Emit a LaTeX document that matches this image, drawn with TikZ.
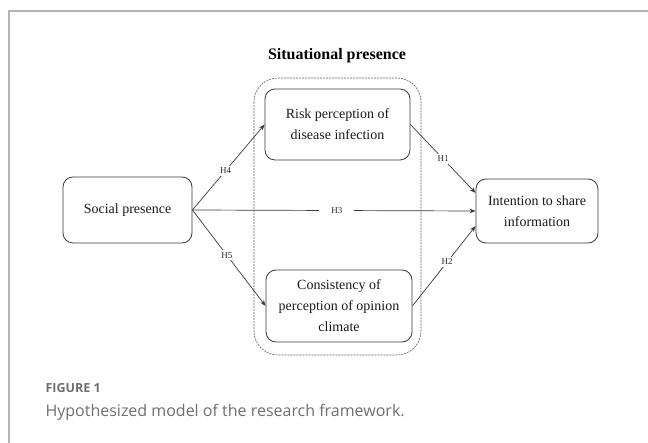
\documentclass[tikz,border=0pt]{standalone}
\usepackage{fontspec}
\setmainfont{Liberation Serif}
\newfontfamily\capfont{Open Sans}
\usetikzlibrary{arrows.meta,calc}
\definecolor{linegray}{HTML}{3A3A3A}
\definecolor{framegray}{HTML}{B4B4B4}
\definecolor{capgray}{HTML}{6E6E6E}
\tikzset{
  varbox/.style={draw=linegray, line width=0.8pt, rounded corners=10pt, align=center,
    font=\fontsize{14}{21}\selectfont, text=black!90, inner sep=0pt},
  hyp/.style={draw=linegray, line width=0.7pt, -{Stealth[length=6pt,width=4.5pt]}},
  hlabel/.style={fill=white, font=\fontsize{9}{10}\selectfont, text=black!85, inner sep=2pt},
}
\begin{document}
\begin{tikzpicture}[x=1pt,y=-1pt]
\useasboundingbox (0,0) rectangle (648,443);
% frame
\draw[framegray, line width=1.3pt] (648,11) -- (9,11) -- (9,443);
% title
\node[font=\fontsize{16}{18}\selectfont\bfseries, anchor=base] (title) at (337,60) {Situational presence};
% dashed group
\draw[linegray!80, line width=0.6pt, dash pattern=on 2pt off 1pt, rounded corners=24pt] (254,78) rectangle (421,355);
% nodes
\node[varbox, minimum width=129pt, minimum height=66pt] (social) at (127.5,210) {Social presence};
\node[varbox, minimum width=145pt, minimum height=71pt] (risk) at (337.5,124.5) {Risk perception of\\disease infection};
\node[varbox, minimum width=146pt, minimum height=72pt] (cons) at (339,306) {Consistency of\\perception of opinion\\climate};
\node[varbox, minimum width=122pt, minimum height=64pt] (intent) at (537,211) {Intention to share\\information};
% connectors
\draw[hyp] (social.east) -- node[hlabel, pos=0.46] (h4) {H4} (risk.west);
\draw[hyp] (social.east) -- node[hlabel, pos=0.47] (h5) {H5} (cons.west);
\draw[hyp] (social.east) -- node[hlabel, inner xsep=12pt, pos=0.51] (h3) {H3} (intent.west);
\draw[hyp] (risk.east) -- node[hlabel, pos=0.5] (h1) {H1} ($(intent.west)+(0,-18)$);
\draw[hyp] (cons.east) -- node[hlabel, pos=0.55] (h2) {H2} ($(intent.west)+(0,15)$);
% caption
\node[font=\capfont\fontsize{12.5}{14}\selectfont\bfseries, text=capgray, anchor=base west] (fig) at (42,393) {FIGURE 1};
\node[font=\capfont\fontsize{16}{18}\selectfont, text=capgray, anchor=base west] (cap) at (42,417) {Hypothesized model of the research framework.};
\end{tikzpicture}
\end{document}
